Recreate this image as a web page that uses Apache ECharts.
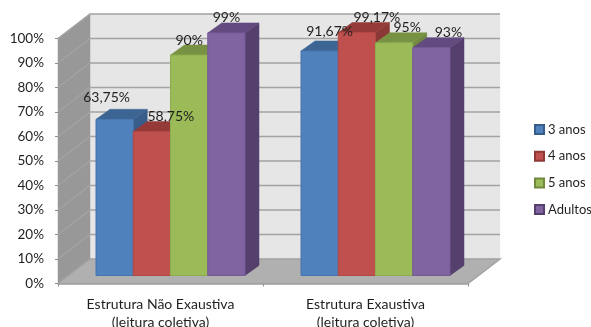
<!DOCTYPE html>
<html>
<head>
<meta charset="utf-8">
<style>html,body{margin:0;padding:0;background:#fff}#chart{width:591px;height:327px}</style>
<script src="https://cdn.jsdelivr.net/npm/echarts@6/dist/echarts.min.js"></script>
</head>
<body>
<div id="chart"></div>
<script>
// Percentage of correct readings by age group
const categories = ['Estrutura Não Exaustiva\n(leitura coletiva)', 'Estrutura Exaustiva\n(leitura coletiva)'];
const ticks = [0, 10, 20, 30, 40, 50, 60, 70, 80, 90, 100];
const tresAnos = [63.75, 91.67];
const quatroAnos = [58.75, 99.17];
const cincoAnos = [90, 95];
const adultos = [99, 93];

// Pseudo-3D layout, in pixels
const FONT = 'Lato';
const WALL_DX = 32, WALL_DY = 24.5;   // depth of the chart box
const BAR_DX = 14, BAR_DY = 10;       // depth of each bar
const BAR_W = 37.25;
const BAR_SHIFT_X = 10, BAR_SHIFT_Y = -8; // bars stand inside the floor

// Value-label offsets from each bar's top centre, per category
const nudgeTres = [[-8, -22], [10, -19]];
const nudgeQuatro = [[19, -15], [20, -15]];
const nudgeCinco = [[0, -15], [13, -15]];
const nudgeAdultos = [[0, -15], [17, -15]];

const poly = (points, fill, z2) => ({
  type: 'polygon', z2: z2 || 0,
  shape: { points },
  style: { fill, stroke: fill, lineWidth: 0.5 }
});

function renderWalls(params) {
  const c = params.coordSys;
  const l = c.x, r = c.x + c.width, t = c.y, b = c.y + c.height;
  return {
    type: 'group',
    children: [
      poly([[l + WALL_DX, t - WALL_DY], [r + WALL_DX, t - WALL_DY], [r + WALL_DX, b - WALL_DY], [l + WALL_DX, b - WALL_DY]], '#e6e6e6'),
      poly([[l, t], [l + WALL_DX, t - WALL_DY], [l + WALL_DX, b - WALL_DY], [l, b]], '#989898'),
      poly([[l, b], [l + WALL_DX, b - WALL_DY], [r + WALL_DX, b - WALL_DY], [r, b]], '#b0b0b0')
    ]
  };
}

function renderGridline(params, api) {
  const c = params.coordSys;
  const y = api.coord([0, api.value(1)])[1];
  const l = c.x, r = c.x + c.width;
  const lineStyle = { stroke: '#a3a3a3', lineWidth: 1.5, fill: 'none' };
  const children = [
    { type: 'polyline', shape: { points: [[l, y], [l + WALL_DX, y - WALL_DY], [r + WALL_DX, y - WALL_DY]] }, style: lineStyle }
  ];
  if (api.value(1) === 0) {
    children[0].shape.points = [[l, y], [l + WALL_DX, y - WALL_DY], [r + WALL_DX, y - WALL_DY], [r, y], [l, y]];
  }
  return { type: 'group', children };
}

function makeBars(name, values, nudges, slot, colors) {
  return {
    type: 'custom',
    name,
    coordinateSystem: 'cartesian2d',
    itemStyle: { color: colors.front, borderColor: colors.side, borderWidth: 1 },
    encode: { x: 0, y: 1 },
    data: values.map((v, i) => [i, v]),
    renderItem(params, api) {
      const idx = api.value(0), val = api.value(1);
      const top = api.coord([idx, val]);
      const base = api.coord([idx, 0]);
      const x0 = top[0] + BAR_SHIFT_X + (slot - 2) * BAR_W;
      const x1 = x0 + BAR_W;
      const yt = top[1] + BAR_SHIFT_Y;
      const yb = base[1] + BAR_SHIFT_Y;
      const n = nudges[idx];
      return {
        type: 'group',
        children: [
          poly([[x1, yt], [x1 + BAR_DX, yt - BAR_DY], [x1 + BAR_DX, yb - BAR_DY], [x1, yb]], colors.side),
          poly([[x0, yt], [x0 + BAR_DX, yt - BAR_DY], [x1 + BAR_DX, yt - BAR_DY], [x1, yt]], colors.top),
          { type: 'rect', shape: { x: x0, y: yt, width: BAR_W, height: yb - yt }, style: { fill: colors.front, stroke: colors.edge, lineWidth: 1 } },
          {
            type: 'text', z2: 100,
            style: {
              x: x0 + BAR_W / 2 + n[0], y: yt + n[1],
              text: String(val).replace('.', ',') + '%',
              align: 'center', verticalAlign: 'middle',
              font: '14px ' + FONT, fill: '#1f1f1f'
            }
          }
        ]
      };
    }
  };
}

const chart = echarts.init(document.getElementById('chart'), null, { renderer: 'canvas' });
chart.setOption({
  animation: false,
  backgroundColor: '#ffffff',
  grid: { left: 58, right: 123, top: 38.5, bottom: 43.5, outerBoundsMode: 'none' },
  legend: {
    orient: 'vertical', left: 534, top: 123, padding: 0,
    itemWidth: 9, itemHeight: 9, itemGap: 13.7,
    icon: 'rect',
    textStyle: { fontFamily: FONT, fontSize: 13, color: '#1f1f1f', padding: [0, 0, 0, -1] },
    data: ['3 anos', '4 anos', '5 anos', 'Adultos']
  },
  xAxis: {
    type: 'category',
    data: categories,
    boundaryGap: true,
    axisLine: { lineStyle: { color: '#a3a3a3', width: 1.5 } },
    axisTick: { show: true, length: 3, lineStyle: { color: '#8c8c8c' } },
    axisLabel: { fontFamily: FONT, fontSize: 14, color: '#1f1f1f', lineHeight: 18, margin: 12 },
    splitLine: { show: false }
  },
  yAxis: {
    type: 'value',
    min: 0, max: 100, interval: 10,
    axisLine: { show: true, lineStyle: { color: '#a3a3a3', width: 1 } },
    axisTick: { show: true, length: 3, lineStyle: { color: '#8c8c8c' } },
    axisLabel: { fontFamily: FONT, fontSize: 13.5, color: '#1f1f1f', margin: 14, formatter: '{value}%' },
    splitLine: { show: false }
  },
  series: [
    { type: 'custom', name: 'paredes', silent: true, coordinateSystem: 'cartesian2d', data: [[0, 0]], encode: { x: 0, y: 1 }, renderItem: renderWalls },
    { type: 'custom', name: 'grelha', silent: true, coordinateSystem: 'cartesian2d', data: ticks.map(t => [0, t]), encode: { x: 0, y: 1 }, renderItem: renderGridline },
    makeBars('3 anos', tresAnos, nudgeTres, 0, { front: '#4f81bd', top: '#3c6594', side: '#385d8a', edge: '#4675ad' }),
    makeBars('4 anos', quatroAnos, nudgeQuatro, 1, { front: '#c0504d', top: '#953a38', side: '#8c3836', edge: '#b04946' }),
    makeBars('5 anos', cincoAnos, nudgeCinco, 2, { front: '#9bbb59', top: '#789243', side: '#71893f', edge: '#8dac4e' }),
    makeBars('Adultos', adultos, nudgeAdultos, 3, { front: '#8064a2', top: '#634b80', side: '#553f6d', edge: '#755a96' })
  ]
});
</script>
</body>
</html>
